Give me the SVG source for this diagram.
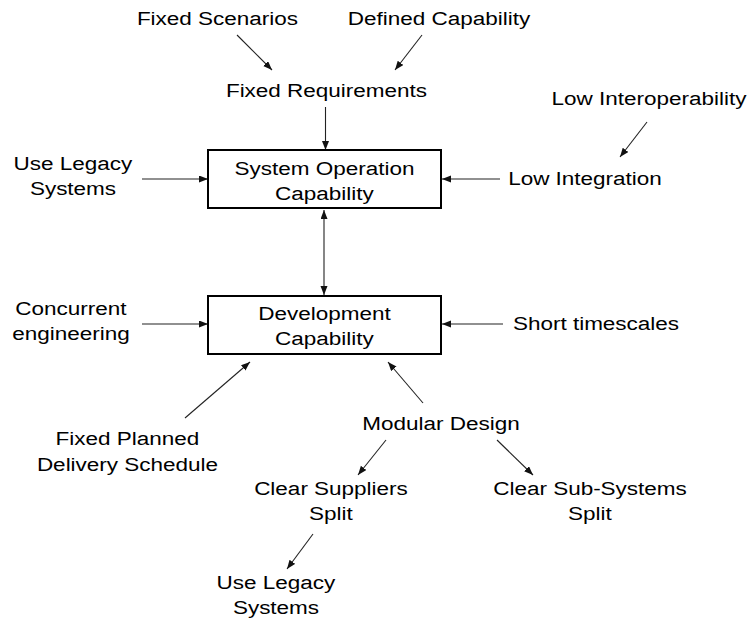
<svg xmlns="http://www.w3.org/2000/svg" width="752" height="625" viewBox="0 0 752 625">
  <defs>
    <marker id="arrow" markerUnits="userSpaceOnUse" markerWidth="10" markerHeight="8" refX="9" refY="3.5" orient="auto-start-reverse">
      <path d="M0,0 L9,3.5 L0,7 z" fill="#111"/>
    </marker>
    <style>
      text { font-family: "Liberation Sans", Arial, sans-serif; font-size: 18px; fill: #000; text-anchor: middle; }
      .lbl { transform-box: fill-box; transform-origin: center; transform: scaleX(1.25); }
      .box { fill: #fff; stroke: #000; stroke-width: 2; }
      .edge { stroke: #222; stroke-width: 1.1; fill: none; marker-end: url(#arrow); }
      .both { marker-start: url(#arrow); }
    </style>
  </defs>
  <rect width="752" height="625" fill="#fff"/>

  <!-- connectors -->
  <g id="connectors">
    <line class="edge" x1="237" y1="35" x2="272" y2="70"/>
    <line class="edge" x1="422" y1="35" x2="395" y2="70"/>
    <line class="edge" x1="325.5" y1="107" x2="325.5" y2="150"/>
    <line class="edge" x1="142" y1="179" x2="208" y2="179"/>
    <line class="edge" x1="500" y1="179" x2="442" y2="179"/>
    <line class="edge" x1="647" y1="122" x2="620" y2="157"/>
    <line class="edge both" x1="324" y1="210" x2="324" y2="295"/>
    <line class="edge" x1="142" y1="324" x2="208" y2="324"/>
    <line class="edge" x1="503" y1="324" x2="442" y2="324"/>
    <line class="edge" x1="185" y1="418" x2="250" y2="362"/>
    <line class="edge" x1="423" y1="403" x2="388" y2="362"/>
    <line class="edge" x1="386" y1="440" x2="358" y2="475"/>
    <line class="edge" x1="497" y1="440" x2="533" y2="475"/>
    <line class="edge" x1="313" y1="534" x2="287" y2="569"/>
  </g>

  <!-- nodes -->
  <g id="fixed-scenarios"><text class="lbl" x="217.5" y="25">Fixed Scenarios</text></g>
  <g id="defined-capability"><text class="lbl" x="439" y="25">Defined Capability</text></g>
  <g id="fixed-requirements"><text class="lbl" x="326.5" y="97">Fixed Requirements</text></g>
  <g id="low-interoperability"><text class="lbl" x="649" y="105">Low Interoperability</text></g>
  <g id="use-legacy-top"><text class="lbl" x="73" y="170">Use Legacy</text><text class="lbl" x="73" y="195">Systems</text></g>
  <g id="system-operation">
    <rect class="box" x="208" y="150" width="233" height="58"/>
    <text class="lbl" x="324.5" y="175">System Operation</text>
    <text class="lbl" x="324.5" y="200">Capability</text>
  </g>
  <g id="low-integration"><text class="lbl" x="585" y="185">Low Integration</text></g>
  <g id="concurrent"><text class="lbl" x="71" y="315">Concurrent</text><text class="lbl" x="71" y="340">engineering</text></g>
  <g id="development">
    <rect class="box" x="208" y="296" width="233" height="58"/>
    <text class="lbl" x="324.5" y="320">Development</text>
    <text class="lbl" x="324.5" y="345">Capability</text>
  </g>
  <g id="short-timescales"><text class="lbl" x="596" y="330">Short timescales</text></g>
  <g id="fixed-planned"><text class="lbl" x="127.5" y="445">Fixed Planned</text><text class="lbl" x="127.5" y="471">Delivery Schedule</text></g>
  <g id="modular-design"><text class="lbl" x="441" y="430">Modular Design</text></g>
  <g id="clear-suppliers"><text class="lbl" x="331" y="495">Clear Suppliers</text><text class="lbl" x="331" y="520">Split</text></g>
  <g id="clear-subsystems"><text class="lbl" x="590" y="495">Clear Sub-Systems</text><text class="lbl" x="590" y="520">Split</text></g>
  <g id="use-legacy-bottom"><text class="lbl" x="276" y="589">Use Legacy</text><text class="lbl" x="276" y="614">Systems</text></g>
</svg>
